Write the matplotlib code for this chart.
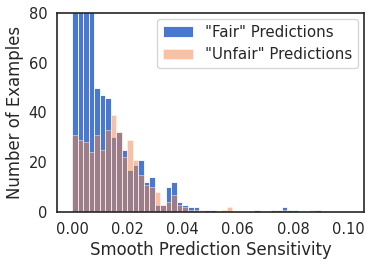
import numpy as np
import matplotlib
matplotlib.use('Agg')
import matplotlib.pyplot as plt
import seaborn as sns

# histogram counts per bin (50 bins of width 0.002 from 0 to 0.1)
bin_edges = np.linspace(0, 0.1, 51)
fair_counts = [110, 100, 92, 86, 50, 47, 46, 30, 32, 25,
               17, 19, 21, 12, 14, 3, 3, 10, 12, 4,
               3, 2, 2, 0, 1, 1, 0, 0, 0, 0,
               0, 0, 0, 1, 0, 0, 1, 1, 2, 1,
               1, 0, 0, 0, 1, 0, 0, 0, 0, 0]
unfair_counts = [31, 29, 28, 24, 31, 25, 33, 39, 32, 22,
                 29, 21, 15, 11, 10, 8, 3, 4, 7, 3,
                 2, 1, 1, 1, 0, 0, 0, 1, 2, 0,
                 0, 0, 0, 0, 0, 0, 0, 0, 1, 0,
                 0, 0, 0, 1, 0, 0, 0, 0, 0, 0]
labels = ['"Fair" Predictions', '"Unfair" Predictions']

sns.set_style('white')
plt.rcParams['font.family'] = ['DejaVu Sans']
colors = sns.color_palette('muted')

centers = (bin_edges[:-1] + bin_edges[1:]) / 2

fig = plt.figure(figsize=(3.74, 2.65), dpi=100)
ax = fig.add_axes([0.152, 0.2, 0.821, 0.751])
ax.hist(centers, bins=bin_edges, weights=fair_counts, color=colors[0],
        edgecolor='white', linewidth=0.6, label=labels[0])
ax.hist(centers, bins=bin_edges, weights=unfair_counts, color=colors[1],
        alpha=0.5, edgecolor='white', linewidth=0.6, label=labels[1])

ax.set_ylim(0, 80)
ax.set_xlim(-0.0055, 0.1057)
ax.set_xticks([0.0, 0.02, 0.04, 0.06, 0.08, 0.10])
ax.set_yticks([0, 20, 40, 60, 80])
ax.tick_params(labelsize=10.5, colors='#262626')
ax.set_xlabel('Smooth Prediction Sensitivity', fontsize=11.9, labelpad=3)
ax.set_ylabel('Number of Examples', fontsize=11.9, labelpad=3)
for s in ax.spines.values():
    s.set_color('#262626')
    s.set_linewidth(1.2)
ax.legend(loc='upper right', fontsize=10.8, borderaxespad=0.4)

fig.savefig('out.png', dpi=100)
